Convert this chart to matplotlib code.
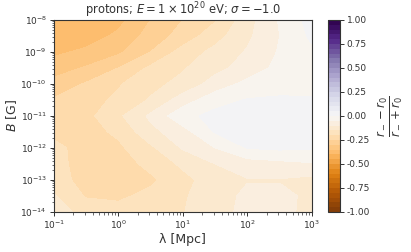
import numpy as np
import matplotlib
matplotlib.use("Agg")
import matplotlib.pyplot as plt
from matplotlib.ticker import FixedLocator, FuncFormatter, NullFormatter

plt.rcParams['font.family'] = ['DejaVu Sans']
plt.rcParams['mathtext.fontset'] = 'dejavusans'

# grid: log10(lambda / Mpc) and log10(B / G)
log_lam = [-1.0, -0.5, 0.0, 0.5, 1.0, 1.5, 2.0, 2.5, 3.0]
log_B = [-8.0, -8.5, -9.0, -9.5, -10.0, -10.5, -11.0, -11.5, -12.0,
         -12.5, -13.0, -13.5, -14.0]

# (r_- - r_0)/(r_- + r_0), one row per B value (top to bottom)
ratio = [
    [-0.390, -0.390, -0.365, -0.300, -0.250, -0.205, -0.120, -0.045, 0.020],
    [-0.385, -0.375, -0.340, -0.280, -0.230, -0.170, -0.110, -0.050, 0.010],
    [-0.360, -0.340, -0.310, -0.250, -0.180, -0.135, -0.095, -0.045, -0.010],
    [-0.325, -0.295, -0.250, -0.190, -0.155, -0.115, -0.080, -0.035, -0.015],
    [-0.282, -0.245, -0.205, -0.165, -0.135, -0.078, -0.035, -0.015, -0.010],
    [-0.245, -0.220, -0.190, -0.145, -0.075, -0.020, 0.003, 0.005, 0.003],
    [-0.225, -0.215, -0.160, -0.090, -0.015, 0.015, 0.025, 0.025, 0.020],
    [-0.210, -0.220, -0.190, -0.115, -0.070, 0.004, 0.020, 0.025, 0.020],
    [-0.190, -0.215, -0.210, -0.160, -0.095, -0.050, 0.002, 0.010, 0.005],
    [-0.180, -0.225, -0.225, -0.185, -0.140, -0.100, -0.075, -0.065, -0.055],
    [-0.170, -0.225, -0.230, -0.210, -0.165, -0.125, -0.103, -0.103, -0.115],
    [-0.145, -0.205, -0.210, -0.185, -0.155, -0.125, -0.088, -0.088, -0.110],
    [-0.130, -0.165, -0.180, -0.170, -0.152, -0.120, -0.085, -0.090, -0.110],
]

Z = np.array(ratio)

fig = plt.figure(figsize=(4.11, 2.52), dpi=100)
ax = fig.add_axes([0.131, 0.159, 0.628, 0.762])
cax = fig.add_axes([0.798, 0.159, 0.029, 0.762])

levels = np.linspace(-1, 1, 41)
# contour in log10 space so the bands sit where they were read
cs = ax.contourf(log_lam, log_B, Z, levels=levels, cmap='PuOr',
                 vmin=-1, vmax=1)

ax.set_xlim(-1, 3)
ax.set_ylim(-14, -8)


def decade_label(v, pos):
    return r'$10^{%d}$' % round(v)


def minor_ticks(lo, hi):
    out = []
    for k in range(int(np.floor(lo)), int(np.ceil(hi))):
        for m in range(2, 10):
            t = k + np.log10(m)
            if lo < t < hi:
                out.append(t)
    return out


ax.xaxis.set_major_locator(FixedLocator(np.arange(-1, 4)))
ax.yaxis.set_major_locator(FixedLocator(np.arange(-14, -7)))
ax.xaxis.set_minor_locator(FixedLocator(minor_ticks(-1, 3)))
ax.yaxis.set_minor_locator(FixedLocator(minor_ticks(-14, -8)))
ax.xaxis.set_major_formatter(FuncFormatter(decade_label))
ax.yaxis.set_major_formatter(FuncFormatter(decade_label))
ax.xaxis.set_minor_formatter(NullFormatter())
ax.yaxis.set_minor_formatter(NullFormatter())

grey = '#333333'
for a in (ax, cax):
    for s in a.spines.values():
        s.set_color(grey)
        s.set_linewidth(0.8)

ax.tick_params(which='major', length=3, width=0.7, color=grey, labelsize=6.5,
               labelcolor=grey, pad=2)
ax.tick_params(which='minor', length=1.8, width=0.5, color=grey)

ax.set_xlabel('λ [Mpc]', fontsize=9, color=grey, labelpad=1)
ax.set_ylabel('$B$ [G]', fontsize=9, color=grey, labelpad=1)
ax.set_title(r'protons; $E = 1\times10^{20}$ eV; $\sigma = -1.0$',
             fontsize=8.3, color=grey, pad=3)

cb = fig.colorbar(cs, cax=cax, ticks=np.linspace(-1, 1, 9), format='%.2f')
cb.outline.set_edgecolor(grey)
cb.outline.set_linewidth(0.8)
cax.tick_params(length=3, width=0.7, color=grey, labelsize=6.5,
                labelcolor=grey, pad=2)
cb.set_label(r'$\frac{r_- - r_0}{r_- + r_0}$', fontsize=12, color=grey,
             labelpad=4)

fig.savefig('out.png', dpi=100)
